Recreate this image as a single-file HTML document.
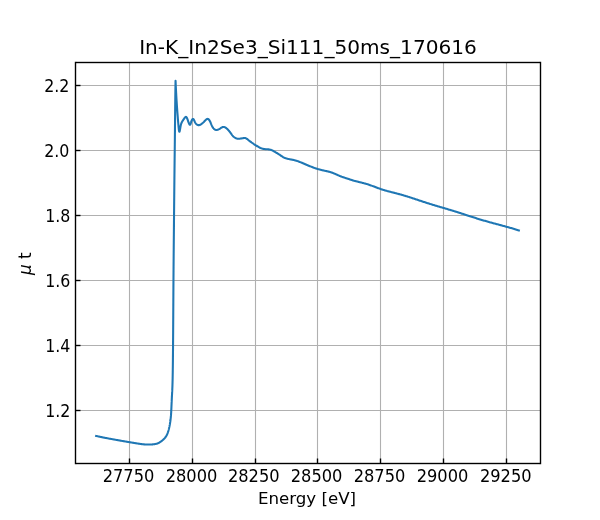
<!DOCTYPE html>
<html><head><meta charset="utf-8"><title>In-K_In2Se3_Si111_50ms_170616</title>
<style>
html,body{margin:0;padding:0;background:#fff;}
body{width:600px;height:520px;overflow:hidden;}
svg{display:block;}
text{font-family:"DejaVu Sans","Liberation Sans",sans-serif;fill:#000;}
</style></head><body>
<svg width="600" height="520" viewBox="0 0 600 520">
<rect x="0" y="0" width="600" height="520" fill="#ffffff"/>
<defs><clipPath id="ax"><rect x="75" y="62.4" width="465" height="400.4"/></clipPath></defs>
<g stroke="#b0b0b0" stroke-width="1.1111" fill="none" clip-path="url(#ax)">
<line x1="129.5" y1="62" x2="129.5" y2="464"/>
<line x1="192.5" y1="62" x2="192.5" y2="464"/>
<line x1="255.5" y1="62" x2="255.5" y2="464"/>
<line x1="317.5" y1="62" x2="317.5" y2="464"/>
<line x1="380.5" y1="62" x2="380.5" y2="464"/>
<line x1="443.5" y1="62" x2="443.5" y2="464"/>
<line x1="506.5" y1="62" x2="506.5" y2="464"/>
<line x1="75" y1="410.5" x2="541" y2="410.5"/>
<line x1="75" y1="345.5" x2="541" y2="345.5"/>
<line x1="75" y1="280.5" x2="541" y2="280.5"/>
<line x1="75" y1="215.5" x2="541" y2="215.5"/>
<line x1="75" y1="150.5" x2="541" y2="150.5"/>
<line x1="75" y1="85.5" x2="541" y2="85.5"/>
</g>
<g stroke="#000" stroke-width="1.3889" fill="none">
<line x1="129.5" y1="463.5" x2="129.5" y2="458.5"/>
<line x1="192.5" y1="463.5" x2="192.5" y2="458.5"/>
<line x1="255.5" y1="463.5" x2="255.5" y2="458.5"/>
<line x1="317.5" y1="463.5" x2="317.5" y2="458.5"/>
<line x1="380.5" y1="463.5" x2="380.5" y2="458.5"/>
<line x1="443.5" y1="463.5" x2="443.5" y2="458.5"/>
<line x1="506.5" y1="463.5" x2="506.5" y2="458.5"/>
<line x1="75.5" y1="410.5" x2="80.5" y2="410.5"/>
<line x1="75.5" y1="345.5" x2="80.5" y2="345.5"/>
<line x1="75.5" y1="280.5" x2="80.5" y2="280.5"/>
<line x1="75.5" y1="215.5" x2="80.5" y2="215.5"/>
<line x1="75.5" y1="150.5" x2="80.5" y2="150.5"/>
<line x1="75.5" y1="85.5" x2="80.5" y2="85.5"/>
</g>
<path d="M96.14 435.90 L96.37 435.96 L96.61 436.02 L96.87 436.08 L97.13 436.15 L97.40 436.21 L97.67 436.28 L97.96 436.35 L98.26 436.41 L98.56 436.48 L98.87 436.55 L99.19 436.62 L99.52 436.70 L99.86 436.77 L100.20 436.84 L100.55 436.92 L100.90 436.99 L101.27 437.07 L101.64 437.14 L102.01 437.22 L102.39 437.30 L102.78 437.38 L103.17 437.45 L103.56 437.53 L103.97 437.61 L104.37 437.69 L104.78 437.77 L105.20 437.86 L105.62 437.94 L106.04 438.02 L106.47 438.10 L106.90 438.18 L107.33 438.27 L107.77 438.35 L108.21 438.43 L108.65 438.51 L109.09 438.60 L109.54 438.68 L109.99 438.76 L110.44 438.85 L110.89 438.93 L111.00 438.95 L111.34 439.01 L111.80 439.10 L112.25 439.18 L112.71 439.26 L113.16 439.34 L113.62 439.43 L114.07 439.51 L114.53 439.59 L114.98 439.67 L115.44 439.75 L115.89 439.83 L116.34 439.91 L116.79 439.99 L117.24 440.07 L117.69 440.15 L118.13 440.23 L118.58 440.31 L119.02 440.39 L119.45 440.46 L119.89 440.54 L120.32 440.61 L120.75 440.69 L121.17 440.76 L121.59 440.84 L122.01 440.91 L122.42 440.98 L122.83 441.05 L123.24 441.12 L123.63 441.19 L124.03 441.26 L124.42 441.32 L124.80 441.39 L125.18 441.45 L125.55 441.51 L125.91 441.58 L126.27 441.64 L126.62 441.70 L126.97 441.76 L127.30 441.81 L127.63 441.87 L127.96 441.92 L128.27 441.98 L128.58 442.03 L128.88 442.08 L129.00 442.10 L129.17 442.13 L129.45 442.18 L129.73 442.22 L130.00 442.27 L130.26 442.31 L130.51 442.35 L130.76 442.40 L131.00 442.44 L131.24 442.48 L131.48 442.51 L131.71 442.55 L131.93 442.59 L132.16 442.63 L132.38 442.67 L132.60 442.70 L132.82 442.74 L133.04 442.77 L133.25 442.81 L133.47 442.85 L133.69 442.88 L133.90 442.92 L134.12 442.95 L134.34 442.99 L134.57 443.03 L134.79 443.07 L135.00 443.10 L135.02 443.10 L135.26 443.14 L135.50 443.18 L135.74 443.22 L135.98 443.26 L136.23 443.30 L136.48 443.34 L136.73 443.39 L136.98 443.43 L137.24 443.47 L137.50 443.51 L137.76 443.55 L138.02 443.59 L138.29 443.63 L138.56 443.68 L138.82 443.72 L139.09 443.76 L139.36 443.80 L139.63 443.84 L139.91 443.88 L140.18 443.91 L140.45 443.95 L140.73 443.99 L141.00 444.03 L141.27 444.06 L141.54 444.10 L141.82 444.13 L142.09 444.16 L142.36 444.20 L142.40 444.20 L142.63 444.23 L142.90 444.26 L143.17 444.28 L143.43 444.31 L143.70 444.34 L143.96 444.36 L144.23 444.38 L144.49 444.41 L144.76 444.43 L145.02 444.45 L145.28 444.46 L145.55 444.48 L145.81 444.50 L146.07 444.51 L146.33 444.52 L146.59 444.53 L146.85 444.54 L147.11 444.55 L147.37 444.56 L147.64 444.56 L147.90 444.57 L148.16 444.57 L148.42 444.57 L148.68 444.57 L148.94 444.57 L149.20 444.56 L149.46 444.56 L149.73 444.55 L149.80 444.55 L149.99 444.54 L150.25 444.53 L150.52 444.52 L150.78 444.51 L151.04 444.49 L151.30 444.48 L151.57 444.46 L151.83 444.44 L152.08 444.42 L152.34 444.40 L152.60 444.37 L152.85 444.35 L153.10 444.32 L153.35 444.30 L153.59 444.27 L153.84 444.24 L154.08 444.20 L154.31 444.17 L154.54 444.14 L154.77 444.10 L155.00 444.06 L155.22 444.03 L155.43 443.99 L155.64 443.95 L155.84 443.91 L156.04 443.86 L156.10 443.85 L156.24 443.82 L156.42 443.77 L156.61 443.73 L156.79 443.68 L156.96 443.63 L157.13 443.58 L157.30 443.52 L157.46 443.47 L157.63 443.41 L157.79 443.35 L157.95 443.28 L158.11 443.21 L158.26 443.14 L158.42 443.07 L158.58 442.99 L158.74 442.91 L158.90 442.83 L159.06 442.74 L159.23 442.64 L159.30 442.60 L159.39 442.54 L159.56 442.44 L159.73 442.34 L159.91 442.22 L160.08 442.11 L160.26 441.99 L160.44 441.87 L160.62 441.74 L160.80 441.61 L160.98 441.48 L161.17 441.35 L161.35 441.21 L161.53 441.07 L161.71 440.93 L161.90 440.79 L162.08 440.64 L162.26 440.49 L162.44 440.34 L162.61 440.19 L162.79 440.04 L162.96 439.89 L163.13 439.74 L163.30 439.58 L163.47 439.43 L163.50 439.40 L163.63 439.27 L163.79 439.12 L163.95 438.96 L164.11 438.81 L164.26 438.65 L164.41 438.49 L164.55 438.33 L164.70 438.17 L164.84 438.00 L164.98 437.84 L165.12 437.67 L165.25 437.50 L165.38 437.33 L165.51 437.15 L165.64 436.97 L165.77 436.79 L165.89 436.60 L166.01 436.41 L166.13 436.22 L166.25 436.02 L166.37 435.82 L166.48 435.61 L166.60 435.40 L166.70 435.20 L166.71 435.18 L166.82 434.96 L166.93 434.73 L167.03 434.50 L167.14 434.27 L167.24 434.03 L167.34 433.78 L167.44 433.53 L167.54 433.28 L167.64 433.02 L167.74 432.76 L167.83 432.49 L167.93 432.22 L168.02 431.95 L168.11 431.67 L168.20 431.39 L168.28 431.11 L168.37 430.83 L168.45 430.54 L168.53 430.25 L168.62 429.96 L168.70 429.66 L168.77 429.37 L168.85 429.07 L168.93 428.77 L169.00 428.47 L169.07 428.17 L169.14 427.86 L169.21 427.56 L169.28 427.25 L169.35 426.94 L169.40 426.70 L169.41 426.63 L169.48 426.32 L169.54 426.01 L169.60 425.70 L169.66 425.39 L169.72 425.08 L169.78 424.77 L169.83 424.46 L169.89 424.15 L169.94 423.83 L169.99 423.52 L170.04 423.21 L170.09 422.89 L170.14 422.58 L170.19 422.27 L170.24 421.95 L170.28 421.64 L170.32 421.32 L170.37 421.01 L170.41 420.69 L170.45 420.38 L170.49 420.06 L170.53 419.75 L170.56 419.43 L170.60 419.12 L170.64 418.80 L170.67 418.49 L170.70 418.17 L170.74 417.86 L170.77 417.54 L170.80 417.23 L170.83 416.91 L170.86 416.60 L170.88 416.28 L170.90 416.10 L170.91 415.97 L170.94 415.66 L170.96 415.34 L170.99 415.03 L171.01 414.72 L171.03 414.41 L171.06 414.09 L171.08 413.78 L171.10 413.47 L171.12 413.16 L171.14 412.85 L171.16 412.54 L171.18 412.22 L171.20 411.91 L171.21 411.60 L171.23 411.29 L171.25 410.98 L171.27 410.66 L171.28 410.35 L171.30 410.04 L171.31 409.73 L171.33 409.41 L171.34 409.10 L171.36 408.79 L171.37 408.47 L171.39 408.16 L171.40 407.84 L171.42 407.53 L171.43 407.21 L171.44 406.90 L171.46 406.58 L171.47 406.27 L171.48 405.95 L171.50 405.63 L171.50 405.60 L171.51 405.31 L171.53 404.99 L171.54 404.67 L171.55 404.35 L171.57 404.03 L171.58 403.71 L171.60 403.39 L171.61 403.07 L171.63 402.75 L171.64 402.43 L171.66 402.11 L171.67 401.79 L171.68 401.47 L171.70 401.15 L171.71 400.83 L171.73 400.51 L171.74 400.20 L171.76 399.88 L171.77 399.56 L171.79 399.24 L171.80 398.93 L171.82 398.61 L171.83 398.30 L171.85 397.99 L171.86 397.68 L171.88 397.36 L171.90 397.05 L171.91 396.75 L171.93 396.44 L171.94 396.13 L171.96 395.83 L171.97 395.53 L171.99 395.23 L172.00 395.00 L172.00 394.93 L172.02 394.63 L172.04 394.33 L172.05 394.04 L172.07 393.74 L172.08 393.45 L172.10 393.15 L172.11 392.85 L172.13 392.56 L172.14 392.26 L172.16 391.95 L172.18 391.65 L172.19 391.34 L172.21 391.03 L172.22 390.72 L172.24 390.40 L172.25 390.08 L172.27 389.75 L172.29 389.41 L172.30 389.08 L172.32 388.73 L172.33 388.38 L172.35 388.02 L172.36 387.65 L172.38 387.28 L172.39 386.89 L172.41 386.50 L172.42 386.10 L172.44 385.69 L172.45 385.27 L172.46 384.84 L172.48 384.40 L172.49 383.95 L172.51 383.49 L172.52 383.01 L172.54 382.52 L172.55 382.02 L172.56 381.51 L172.58 380.98 L172.59 380.44 L172.60 380.00 L172.60 379.88 L172.62 379.31 L172.63 378.72 L172.64 378.12 L172.65 377.51 L172.67 376.88 L172.68 376.24 L172.69 375.59 L172.70 374.92 L172.71 374.24 L172.73 373.54 L172.74 372.84 L172.75 372.12 L172.76 371.39 L172.77 370.65 L172.78 369.90 L172.79 369.13 L172.80 368.36 L172.82 367.57 L172.83 366.77 L172.84 365.96 L172.85 365.15 L172.86 364.32 L172.87 363.48 L172.88 362.64 L172.89 361.78 L172.90 360.91 L172.91 360.04 L172.92 359.16 L172.92 358.27 L172.93 357.37 L172.94 356.46 L172.95 355.55 L172.96 354.63 L172.97 353.70 L172.98 352.76 L172.99 351.82 L173.00 350.87 L173.00 349.92 L173.01 348.95 L173.02 347.99 L173.03 347.01 L173.04 346.04 L173.05 345.05 L173.05 344.07 L173.06 343.07 L173.07 342.08 L173.08 341.07 L173.08 340.07 L173.09 339.06 L173.10 338.05 L173.11 337.03 L173.11 336.01 L173.12 334.99 L173.13 333.97 L173.14 332.94 L173.14 331.91 L173.15 330.88 L173.16 329.85 L173.16 328.82 L173.17 327.78 L173.18 326.75 L173.18 325.71 L173.19 324.67 L173.20 323.64 L173.20 322.60 L173.21 321.56 L173.22 320.52 L173.22 319.49 L173.23 318.45 L173.24 317.42 L173.24 316.39 L173.25 315.35 L173.25 314.32 L173.26 313.30 L173.27 312.27 L173.27 311.25 L173.28 310.23 L173.28 309.21 L173.29 308.20 L173.30 307.19 L173.30 306.18 L173.31 305.17 L173.31 304.18 L173.32 303.18 L173.33 302.19 L173.33 301.20 L173.34 300.22 L173.34 299.25 L173.35 298.28 L173.36 297.31 L173.36 296.35 L173.37 295.40 L173.37 294.46 L173.38 293.52 L173.38 292.58 L173.39 291.66 L173.40 290.74 L173.40 290.00 L173.40 289.83 L173.41 288.92 L173.41 288.03 L173.42 287.14 L173.42 286.26 L173.43 285.39 L173.44 284.52 L173.44 283.66 L173.45 282.80 L173.45 281.96 L173.46 281.12 L173.46 280.28 L173.47 279.45 L173.48 278.63 L173.48 277.82 L173.49 277.00 L173.49 276.20 L173.50 275.40 L173.51 274.61 L173.51 273.82 L173.52 273.03 L173.52 272.25 L173.53 271.48 L173.53 270.71 L173.54 269.94 L173.55 269.18 L173.55 268.42 L173.56 267.67 L173.56 266.92 L173.57 266.18 L173.58 265.43 L173.58 264.70 L173.59 263.96 L173.59 263.23 L173.60 262.50 L173.61 261.78 L173.61 261.05 L173.62 260.33 L173.63 259.61 L173.63 258.90 L173.64 258.19 L173.64 257.47 L173.65 256.77 L173.66 256.06 L173.66 255.35 L173.67 254.65 L173.67 253.95 L173.68 253.24 L173.69 252.54 L173.69 251.84 L173.70 251.15 L173.71 250.45 L173.71 249.75 L173.72 249.05 L173.73 248.36 L173.73 247.66 L173.74 246.96 L173.74 246.27 L173.75 245.57 L173.76 244.87 L173.76 244.18 L173.77 243.48 L173.78 242.78 L173.78 242.08 L173.79 241.38 L173.80 240.67 L173.80 239.97 L173.81 239.26 L173.82 238.56 L173.82 237.85 L173.83 237.13 L173.84 236.42 L173.85 235.71 L173.85 234.99 L173.86 234.27 L173.87 233.55 L173.87 232.82 L173.88 232.09 L173.89 231.36 L173.89 230.62 L173.90 230.00 L173.90 229.89 L173.91 229.14 L173.92 228.40 L173.92 227.65 L173.93 226.90 L173.94 226.15 L173.94 225.39 L173.95 224.63 L173.96 223.87 L173.97 223.10 L173.97 222.33 L173.98 221.56 L173.99 220.79 L174.00 220.02 L174.00 219.24 L174.01 218.47 L174.02 217.69 L174.03 216.91 L174.03 216.12 L174.04 215.34 L174.05 214.56 L174.06 213.77 L174.06 212.99 L174.07 212.20 L174.08 211.41 L174.09 210.62 L174.09 209.83 L174.10 209.04 L174.11 208.26 L174.12 207.47 L174.12 206.68 L174.13 205.89 L174.14 205.10 L174.15 204.31 L174.16 203.52 L174.16 202.74 L174.17 201.95 L174.18 201.16 L174.19 200.38 L174.19 199.60 L174.20 198.81 L174.21 198.03 L174.22 197.25 L174.23 196.47 L174.23 195.70 L174.24 194.92 L174.25 194.15 L174.26 193.38 L174.26 192.61 L174.27 191.85 L174.28 191.09 L174.29 190.32 L174.29 189.57 L174.30 188.81 L174.31 188.06 L174.32 187.31 L174.32 186.56 L174.33 185.82 L174.34 185.08 L174.35 184.35 L174.35 183.61 L174.36 182.89 L174.37 182.16 L174.38 181.44 L174.38 180.73 L174.39 180.01 L174.40 179.31 L174.41 178.60 L174.41 177.90 L174.42 177.21 L174.43 176.52 L174.44 175.84 L174.44 175.16 L174.45 174.48 L174.46 173.82 L174.47 173.15 L174.47 172.50 L174.48 171.84 L174.49 171.20 L174.49 170.56 L174.50 170.00 L174.50 169.92 L174.51 169.30 L174.51 168.68 L174.52 168.06 L174.53 167.45 L174.54 166.85 L174.54 166.25 L174.55 165.65 L174.56 165.06 L174.56 164.48 L174.57 163.90 L174.58 163.33 L174.58 162.76 L174.59 162.19 L174.60 161.63 L174.60 161.08 L174.61 160.53 L174.62 159.98 L174.62 159.43 L174.63 158.89 L174.63 158.36 L174.64 157.82 L174.65 157.29 L174.65 156.77 L174.66 156.24 L174.67 155.72 L174.67 155.20 L174.68 154.69 L174.69 154.17 L174.69 153.66 L174.70 153.15 L174.70 152.65 L174.71 152.14 L174.72 151.64 L174.72 151.14 L174.73 150.64 L174.73 150.14 L174.74 149.64 L174.75 149.14 L174.75 148.65 L174.76 148.15 L174.76 147.66 L174.77 147.17 L174.77 146.67 L174.78 146.18 L174.79 145.69 L174.79 145.19 L174.80 144.70 L174.80 144.21 L174.81 143.72 L174.81 143.22 L174.82 142.73 L174.83 142.23 L174.83 141.73 L174.84 141.24 L174.84 140.74 L174.85 140.24 L174.85 140.00 L174.85 139.74 L174.86 139.23 L174.86 138.73 L174.87 138.22 L174.87 137.71 L174.88 137.21 L174.88 136.70 L174.89 136.18 L174.90 135.67 L174.90 135.16 L174.91 134.64 L174.91 134.12 L174.92 133.60 L174.92 133.08 L174.93 132.56 L174.93 132.04 L174.94 131.52 L174.94 131.00 L174.95 130.47 L174.95 129.94 L174.96 129.42 L174.96 128.89 L174.97 128.36 L174.97 127.83 L174.98 127.30 L174.98 126.77 L174.99 126.24 L174.99 125.70 L175.00 125.17 L175.00 124.63 L175.01 124.10 L175.01 123.56 L175.02 123.03 L175.03 122.49 L175.03 121.95 L175.04 121.41 L175.04 120.87 L175.05 120.34 L175.05 119.80 L175.06 119.26 L175.06 118.72 L175.07 118.17 L175.07 117.63 L175.08 117.09 L175.08 116.55 L175.09 116.01 L175.09 115.47 L175.10 114.92 L175.10 114.38 L175.11 113.84 L175.12 113.29 L175.12 112.75 L175.13 112.21 L175.13 111.67 L175.14 111.12 L175.14 110.58 L175.15 110.04 L175.15 110.00 L175.16 109.49 L175.16 108.95 L175.17 108.41 L175.17 107.87 L175.18 107.33 L175.18 106.78 L175.19 106.24 L175.20 105.70 L175.20 105.16 L175.21 104.62 L175.21 104.08 L175.22 103.54 L175.23 103.00 L175.23 102.46 L175.24 101.93 L175.25 101.39 L175.25 100.85 L175.26 100.32 L175.27 99.78 L175.27 99.25 L175.28 98.71 L175.28 98.18 L175.29 97.65 L175.30 97.11 L175.31 96.58 L175.31 96.05 L175.32 95.52 L175.33 95.00 L175.33 94.47 L175.34 93.94 L175.35 93.42 L175.35 92.89 L175.36 92.37 L175.37 91.85 L175.38 91.33 L175.38 90.81 L175.39 90.29 L175.40 89.77 L175.41 89.25 L175.41 88.74 L175.42 88.23 L175.43 87.71 L175.44 87.20 L175.45 86.69 L175.45 86.19 L175.46 85.68 L175.47 85.17 L175.48 84.67 L175.49 84.17 L175.50 83.67 L175.51 83.17 L175.51 82.67 L175.52 82.18 L175.53 81.68 L175.54 81.19 L175.55 80.70 L175.59 81.62 L175.63 82.55 L175.67 83.47 L175.71 84.38 L175.75 85.30 L175.79 86.21 L175.84 87.13 L175.88 88.03 L175.93 88.94 L175.97 89.84 L176.02 90.75 L176.07 91.64 L176.11 92.54 L176.16 93.43 L176.21 94.32 L176.26 95.21 L176.31 96.09 L176.36 96.97 L176.41 97.84 L176.47 98.71 L176.52 99.58 L176.57 100.44 L176.63 101.30 L176.68 102.16 L176.73 103.01 L176.79 103.86 L176.84 104.70 L176.90 105.53 L176.96 106.37 L177.00 107.00 L177.01 107.19 L177.07 108.01 L177.13 108.83 L177.19 109.64 L177.24 110.45 L177.30 111.25 L177.36 112.05 L177.42 112.84 L177.48 113.62 L177.54 114.40 L177.60 115.17 L177.66 115.93 L177.71 116.69 L177.77 117.45 L177.83 118.19 L177.89 118.93 L177.95 119.67 L178.01 120.39 L178.07 121.11 L178.13 121.82 L178.19 122.53 L178.26 123.23 L178.32 123.92 L178.38 124.60 L178.43 125.27 L178.49 125.94 L178.50 126.00 L178.55 126.60 L178.61 127.25 L178.67 127.87 L178.73 128.47 L178.80 129.04 L178.86 129.58 L178.92 130.07 L178.98 130.51 L179.05 130.90 L179.11 131.22 L179.18 131.48 L179.25 131.67 L179.32 131.78 L179.39 131.80 L179.40 131.80 L179.46 131.74 L179.54 131.59 L179.62 131.37 L179.70 131.08 L179.78 130.74 L179.86 130.35 L179.94 129.93 L180.02 129.47 L180.10 128.99 L180.18 128.51 L180.26 128.02 L180.34 127.54 L180.40 127.20 L180.42 127.07 L180.50 126.63 L180.58 126.21 L180.66 125.80 L180.74 125.42 L180.82 125.04 L180.91 124.68 L181.01 124.33 L181.11 123.99 L181.23 123.66 L181.35 123.33 L181.48 123.00 L181.62 122.67 L181.70 122.50 L181.77 122.35 L181.94 122.02 L182.12 121.68 L182.31 121.35 L182.51 121.02 L182.71 120.69 L182.92 120.36 L183.14 120.04 L183.36 119.72 L183.58 119.40 L183.80 119.09 L184.02 118.79 L184.23 118.49 L184.30 118.40 L184.45 118.20 L184.66 117.93 L184.86 117.67 L185.06 117.44 L185.26 117.24 L185.45 117.08 L185.63 116.97 L185.82 116.90 L185.99 116.90 L186.00 116.90 L186.16 116.96 L186.33 117.08 L186.50 117.25 L186.66 117.48 L186.82 117.76 L186.98 118.07 L187.14 118.43 L187.29 118.82 L187.45 119.24 L187.61 119.68 L187.78 120.15 L187.90 120.50 L187.94 120.62 L188.11 121.11 L188.28 121.60 L188.46 122.09 L188.63 122.55 L188.80 123.00 L188.98 123.42 L189.15 123.79 L189.32 124.12 L189.48 124.40 L189.64 124.61 L189.79 124.74 L189.94 124.80 L190.00 124.80 L190.08 124.77 L190.21 124.66 L190.34 124.47 L190.46 124.21 L190.58 123.90 L190.70 123.54 L190.82 123.14 L190.95 122.72 L191.07 122.28 L191.20 121.84 L191.34 121.40 L191.48 120.98 L191.55 120.80 L191.64 120.58 L191.80 120.21 L191.97 119.88 L192.15 119.59 L192.33 119.35 L192.51 119.15 L192.69 119.02 L192.88 118.94 L193.06 118.93 L193.15 118.95 L193.24 118.99 L193.41 119.11 L193.58 119.30 L193.74 119.54 L193.90 119.82 L194.06 120.13 L194.22 120.46 L194.38 120.82 L194.53 121.17 L194.69 121.53 L194.84 121.87 L194.90 122.00 L194.99 122.19 L195.15 122.49 L195.31 122.77 L195.47 123.03 L195.64 123.27 L195.81 123.50 L195.98 123.71 L196.17 123.90 L196.36 124.09 L196.56 124.27 L196.60 124.30 L196.77 124.43 L196.99 124.59 L197.22 124.73 L197.46 124.86 L197.71 124.97 L197.97 125.06 L198.23 125.12 L198.51 125.15 L198.79 125.15 L198.85 125.15 L199.09 125.12 L199.39 125.06 L199.69 124.96 L200.00 124.84 L200.31 124.70 L200.62 124.54 L200.93 124.36 L201.24 124.16 L201.53 123.96 L201.82 123.74 L202.10 123.52 L202.25 123.40 L202.37 123.30 L202.63 123.07 L202.88 122.85 L203.11 122.62 L203.35 122.39 L203.57 122.16 L203.80 121.92 L204.03 121.68 L204.25 121.44 L204.48 121.20 L204.72 120.94 L204.90 120.75 L204.96 120.69 L205.21 120.43 L205.46 120.17 L205.73 119.92 L205.99 119.69 L206.26 119.47 L206.53 119.28 L206.80 119.13 L207.07 119.00 L207.34 118.93 L207.60 118.90 L207.70 118.90 L207.86 118.92 L208.11 119.00 L208.35 119.13 L208.59 119.31 L208.82 119.52 L209.04 119.77 L209.26 120.05 L209.47 120.36 L209.67 120.69 L209.86 121.03 L210.05 121.39 L210.10 121.50 L210.22 121.76 L210.39 122.13 L210.55 122.50 L210.71 122.88 L210.86 123.27 L211.01 123.65 L211.17 124.03 L211.32 124.42 L211.48 124.80 L211.64 125.19 L211.81 125.57 L211.98 125.94 L212.17 126.32 L212.36 126.68 L212.40 126.75 L212.57 127.04 L212.79 127.40 L213.02 127.74 L213.27 128.06 L213.52 128.37 L213.79 128.67 L214.07 128.93 L214.35 129.18 L214.65 129.39 L214.95 129.58 L215.26 129.73 L215.58 129.84 L215.80 129.90 L215.91 129.92 L216.24 129.96 L216.58 129.96 L216.93 129.92 L217.27 129.86 L217.62 129.77 L217.97 129.65 L218.33 129.51 L218.68 129.35 L219.03 129.17 L219.37 128.98 L219.72 128.77 L220.00 128.60 L220.06 128.56 L220.39 128.35 L220.72 128.13 L221.04 127.92 L221.37 127.72 L221.69 127.53 L222.02 127.36 L222.34 127.22 L222.67 127.10 L223.01 127.02 L223.34 126.97 L223.69 126.97 L224.00 127.00 L224.05 127.01 L224.41 127.10 L224.78 127.24 L225.16 127.42 L225.54 127.64 L225.92 127.90 L226.31 128.19 L226.69 128.50 L227.07 128.84 L227.45 129.20 L227.82 129.58 L228.19 129.97 L228.54 130.36 L228.89 130.76 L229.22 131.17 L229.54 131.57 L229.80 131.90 L229.84 131.96 L230.13 132.34 L230.40 132.71 L230.67 133.08 L230.92 133.43 L231.16 133.77 L231.40 134.11 L231.63 134.43 L231.87 134.75 L232.10 135.06 L232.34 135.36 L232.59 135.65 L232.84 135.94 L233.11 136.21 L233.30 136.40 L233.38 136.48 L233.67 136.74 L233.98 136.99 L234.29 137.23 L234.61 137.46 L234.94 137.67 L235.28 137.87 L235.61 138.06 L235.95 138.22 L236.30 138.37 L236.64 138.50 L236.97 138.60 L237.31 138.68 L237.40 138.70 L237.64 138.74 L237.96 138.77 L238.28 138.79 L238.59 138.79 L238.89 138.77 L239.19 138.74 L239.49 138.70 L239.78 138.66 L240.07 138.62 L240.36 138.57 L240.50 138.55 L240.64 138.53 L240.92 138.49 L241.20 138.45 L241.47 138.42 L241.75 138.38 L242.02 138.35 L242.28 138.31 L242.55 138.27 L242.81 138.23 L243.00 138.20 L243.08 138.19 L243.34 138.14 L243.60 138.09 L243.86 138.04 L244.12 138.01 L244.38 137.99 L244.65 137.98 L244.93 138.00 L245.20 138.05 L245.40 138.10 L245.49 138.13 L245.78 138.24 L246.07 138.38 L246.38 138.55 L246.69 138.74 L247.00 138.95 L247.32 139.19 L247.65 139.44 L247.98 139.70 L248.32 139.97 L248.66 140.25 L249.00 140.54 L249.35 140.82 L249.70 141.10 L249.71 141.11 L250.07 141.39 L250.43 141.66 L250.79 141.93 L251.16 142.20 L251.53 142.47 L251.90 142.73 L252.28 142.99 L252.66 143.24 L253.04 143.50 L253.42 143.75 L253.80 144.01 L254.19 144.26 L254.58 144.51 L254.96 144.76 L255.35 145.01 L255.50 145.10 L255.75 145.26 L256.14 145.51 L256.53 145.75 L256.92 146.00 L257.31 146.24 L257.71 146.48 L258.10 146.71 L258.49 146.94 L258.88 147.16 L259.27 147.37 L259.65 147.57 L260.04 147.76 L260.42 147.94 L260.81 148.10 L261.19 148.26 L261.30 148.30 L261.56 148.39 L261.94 148.52 L262.31 148.63 L262.68 148.73 L263.05 148.81 L263.42 148.89 L263.79 148.95 L264.16 149.01 L264.53 149.06 L264.89 149.10 L265.26 149.14 L265.63 149.17 L266.00 149.20 L266.00 149.20 L266.38 149.23 L266.75 149.25 L267.13 149.27 L267.50 149.30 L267.88 149.33 L268.25 149.36 L268.63 149.40 L269.00 149.45 L269.37 149.50 L269.74 149.57 L270.11 149.65 L270.48 149.74 L270.70 149.80 L270.84 149.84 L271.20 149.96 L271.55 150.10 L271.91 150.24 L272.26 150.40 L272.61 150.57 L272.96 150.75 L273.30 150.93 L273.65 151.13 L273.99 151.32 L274.34 151.53 L274.69 151.73 L275.03 151.94 L275.30 152.10 L275.38 152.15 L275.73 152.36 L276.08 152.57 L276.43 152.78 L276.78 152.99 L277.13 153.20 L277.48 153.41 L277.83 153.62 L278.18 153.83 L278.52 154.04 L278.87 154.26 L279.20 154.48 L279.54 154.69 L279.87 154.91 L280.00 155.00 L280.20 155.13 L280.52 155.36 L280.84 155.58 L281.16 155.80 L281.48 156.02 L281.79 156.24 L282.11 156.45 L282.44 156.66 L282.76 156.87 L283.10 157.07 L283.43 157.26 L283.78 157.45 L284.13 157.62 L284.30 157.70 L284.50 157.79 L284.87 157.94 L285.25 158.09 L285.64 158.23 L286.04 158.36 L286.44 158.48 L286.85 158.60 L287.26 158.71 L287.67 158.81 L288.09 158.91 L288.51 159.00 L288.93 159.09 L289.34 159.17 L289.76 159.25 L290.00 159.30 L290.18 159.33 L290.59 159.41 L291.00 159.48 L291.41 159.56 L291.82 159.63 L292.23 159.71 L292.65 159.79 L293.06 159.88 L293.48 159.97 L293.91 160.06 L294.34 160.16 L294.78 160.27 L295.23 160.39 L295.69 160.52 L296.15 160.65 L296.30 160.70 L296.63 160.80 L297.12 160.97 L297.61 161.14 L298.12 161.32 L298.63 161.51 L299.16 161.71 L299.69 161.92 L300.22 162.13 L300.77 162.35 L301.32 162.58 L301.87 162.81 L302.43 163.05 L302.99 163.29 L303.56 163.53 L304.13 163.77 L304.70 164.02 L305.27 164.26 L305.85 164.51 L306.42 164.76 L307.00 165.00 L307.00 165.00 L307.57 165.24 L308.14 165.48 L308.71 165.71 L309.28 165.95 L309.85 166.18 L310.41 166.40 L310.97 166.62 L311.53 166.84 L312.09 167.05 L312.64 167.26 L313.19 167.47 L313.73 167.67 L314.27 167.86 L314.81 168.05 L315.33 168.24 L315.86 168.41 L316.38 168.58 L316.89 168.75 L317.40 168.91 L317.70 169.00 L317.89 169.06 L318.39 169.20 L318.87 169.34 L319.35 169.47 L319.83 169.60 L320.30 169.72 L320.76 169.84 L321.22 169.95 L321.68 170.06 L322.13 170.17 L322.58 170.27 L323.02 170.37 L323.46 170.47 L323.90 170.56 L324.34 170.66 L324.78 170.75 L325.00 170.80 L325.21 170.85 L325.64 170.94 L326.08 171.03 L326.51 171.13 L326.93 171.23 L327.36 171.32 L327.78 171.42 L328.20 171.52 L328.62 171.63 L329.03 171.73 L329.44 171.84 L329.84 171.95 L330.24 172.07 L330.63 172.18 L331.00 172.30 L331.02 172.31 L331.41 172.44 L331.79 172.57 L332.17 172.70 L332.54 172.84 L332.91 172.98 L333.28 173.13 L333.65 173.28 L334.01 173.43 L334.38 173.59 L334.74 173.75 L335.11 173.91 L335.48 174.07 L335.85 174.23 L336.00 174.30 L336.23 174.40 L336.60 174.57 L336.99 174.74 L337.37 174.91 L337.76 175.08 L338.15 175.25 L338.54 175.42 L338.93 175.59 L339.33 175.76 L339.73 175.92 L340.14 176.09 L340.54 176.25 L340.95 176.41 L341.36 176.57 L341.70 176.70 L341.77 176.73 L342.19 176.88 L342.61 177.03 L343.03 177.18 L343.45 177.32 L343.87 177.46 L344.29 177.60 L344.71 177.74 L345.14 177.88 L345.56 178.02 L345.98 178.15 L346.41 178.29 L346.83 178.42 L347.26 178.56 L347.68 178.69 L348.00 178.80 L348.10 178.83 L348.52 178.97 L348.94 179.11 L349.36 179.25 L349.78 179.39 L350.21 179.53 L350.63 179.67 L351.07 179.81 L351.50 179.96 L351.94 180.10 L352.39 180.24 L352.85 180.38 L353.31 180.52 L353.79 180.66 L354.27 180.80 L354.76 180.93 L355.00 181.00 L355.27 181.07 L355.78 181.21 L356.31 181.34 L356.85 181.48 L357.39 181.61 L357.95 181.75 L358.52 181.88 L359.09 182.02 L359.67 182.16 L360.26 182.30 L360.86 182.44 L361.46 182.59 L362.06 182.74 L362.68 182.90 L363.29 183.06 L363.92 183.22 L364.54 183.39 L365.17 183.56 L365.80 183.74 L366.43 183.93 L367.00 184.10 L367.07 184.12 L367.70 184.32 L368.34 184.53 L368.97 184.74 L369.61 184.96 L370.24 185.18 L370.88 185.40 L371.51 185.63 L372.14 185.86 L372.77 186.10 L373.40 186.33 L374.03 186.56 L374.65 186.80 L375.27 187.03 L375.88 187.27 L376.49 187.50 L377.10 187.73 L377.70 187.95 L378.30 188.17 L378.89 188.39 L379.48 188.60 L380.06 188.81 L380.60 189.00 L380.63 189.01 L381.20 189.20 L381.76 189.39 L382.31 189.57 L382.86 189.75 L383.41 189.92 L383.95 190.08 L384.49 190.24 L385.03 190.40 L385.57 190.55 L386.10 190.71 L386.64 190.85 L387.17 191.00 L387.71 191.14 L388.25 191.29 L388.79 191.43 L389.33 191.57 L389.88 191.71 L390.43 191.85 L390.98 192.00 L391.00 192.00 L391.55 192.14 L392.11 192.29 L392.68 192.43 L393.26 192.58 L393.84 192.73 L394.42 192.88 L395.01 193.03 L395.60 193.18 L396.19 193.34 L396.78 193.49 L397.37 193.65 L397.97 193.81 L398.57 193.97 L399.16 194.13 L399.76 194.29 L400.36 194.45 L400.95 194.62 L401.54 194.78 L402.14 194.95 L402.73 195.12 L403.00 195.20 L403.31 195.29 L403.90 195.46 L404.48 195.63 L405.06 195.81 L405.64 195.98 L406.22 196.16 L406.79 196.34 L407.37 196.52 L407.95 196.70 L408.52 196.88 L409.10 197.06 L409.68 197.25 L410.26 197.44 L410.84 197.63 L411.42 197.82 L412.00 198.01 L412.59 198.20 L413.18 198.40 L413.77 198.59 L414.37 198.79 L414.97 198.99 L415.00 199.00 L415.58 199.19 L416.19 199.40 L416.80 199.60 L417.42 199.81 L418.04 200.01 L418.66 200.22 L419.29 200.43 L419.91 200.64 L420.54 200.85 L421.18 201.06 L421.81 201.27 L422.44 201.48 L423.08 201.69 L423.72 201.90 L424.35 202.11 L424.99 202.31 L425.63 202.52 L426.27 202.73 L426.90 202.93 L427.54 203.14 L428.17 203.34 L428.80 203.54 L429.00 203.60 L429.44 203.74 L430.07 203.93 L430.69 204.13 L431.32 204.32 L431.95 204.51 L432.57 204.70 L433.20 204.89 L433.82 205.08 L434.45 205.27 L435.07 205.46 L435.70 205.64 L436.32 205.83 L436.95 206.02 L437.58 206.20 L438.21 206.39 L438.84 206.58 L439.48 206.76 L440.11 206.95 L440.75 207.14 L441.39 207.33 L442.04 207.52 L442.69 207.71 L443.00 207.80 L443.34 207.90 L443.99 208.09 L444.65 208.29 L445.30 208.48 L445.95 208.68 L446.60 208.87 L447.25 209.06 L447.89 209.25 L448.52 209.44 L449.15 209.63 L449.76 209.81 L450.36 209.99 L450.95 210.17 L451.52 210.34 L452.08 210.51 L452.62 210.67 L453.14 210.83 L453.64 210.98 L454.11 211.13 L454.57 211.27 L454.99 211.40 L455.00 211.40 L455.40 211.52 L455.78 211.64 L456.14 211.75 L456.49 211.86 L456.84 211.97 L457.18 212.08 L457.52 212.19 L457.87 212.30 L458.22 212.42 L458.60 212.54 L458.99 212.67 L459.41 212.81 L459.86 212.95 L460.00 213.00 L460.34 213.11 L460.86 213.28 L461.41 213.46 L461.99 213.65 L462.60 213.85 L463.23 214.06 L463.90 214.28 L464.58 214.51 L465.30 214.74 L466.03 214.98 L466.78 215.22 L467.55 215.47 L468.33 215.73 L469.13 215.99 L469.95 216.25 L470.77 216.51 L471.60 216.78 L472.45 217.05 L473.29 217.32 L474.15 217.59 L475.00 217.86 L475.86 218.12 L476.71 218.39 L477.57 218.66 L478.42 218.92 L479.26 219.18 L480.00 219.40 L480.10 219.43 L480.93 219.68 L481.75 219.93 L482.57 220.17 L483.37 220.40 L484.17 220.64 L484.96 220.87 L485.75 221.09 L486.53 221.31 L487.30 221.53 L488.07 221.75 L488.83 221.96 L489.58 222.17 L490.33 222.38 L491.08 222.59 L491.82 222.79 L492.56 222.99 L493.29 223.19 L494.02 223.39 L494.75 223.59 L495.48 223.78 L496.20 223.98 L496.92 224.17 L497.64 224.37 L498.35 224.56 L499.07 224.75 L499.78 224.94 L500.00 225.00 L500.49 225.13 L501.20 225.32 L501.91 225.52 L502.62 225.71 L503.34 225.90 L504.05 226.09 L504.76 226.29 L505.48 226.48 L506.19 226.68 L506.91 226.88 L507.63 227.08 L508.35 227.28 L509.07 227.49 L509.80 227.69 L510.53 227.90 L511.27 228.11 L512.00 228.33 L512.74 228.54 L513.49 228.76 L514.24 228.98 L515.00 229.21 L515.76 229.44 L516.52 229.67 L517.30 229.91 L518.08 230.15 L518.86 230.40" fill="none" stroke="#1f77b4" stroke-width="2.0833" stroke-linejoin="round" stroke-linecap="square" clip-path="url(#ax)"/>
<g stroke="#000" stroke-width="1.3889" fill="none" stroke-linecap="square">
<line x1="75.5" y1="62.5" x2="75.5" y2="463.5"/>
<line x1="540.5" y1="62.5" x2="540.5" y2="463.5"/>
</g>
<g fill="#000" shape-rendering="crispEdges">
<rect x="75" y="62" width="466" height="1"/>
<rect x="76" y="61" width="464" height="1" fill-opacity="0.196"/>
<rect x="76" y="63" width="464" height="1" fill-opacity="0.196"/>
<rect x="75" y="463" width="466" height="1"/>
<rect x="76" y="462" width="464" height="1" fill-opacity="0.196"/>
<rect x="76" y="464" width="464" height="1" fill-opacity="0.196"/>
</g>
<g font-size="16.6667">
<text transform="translate(128.471 481.575) scale(0.9750 1.0300)" text-anchor="middle">27750</text>
<text transform="translate(191.502 481.575) scale(0.9750 1.0300)" text-anchor="middle">28000</text>
<text transform="translate(253.783 481.575) scale(0.9750 1.0300)" text-anchor="middle">28250</text>
<text transform="translate(316.564 481.575) scale(0.9750 1.0300)" text-anchor="middle">28500</text>
<text transform="translate(379.469 481.575) scale(0.9750 1.0300)" text-anchor="middle">28750</text>
<text transform="translate(442.500 481.575) scale(0.9750 1.0300)" text-anchor="middle">29000</text>
<text transform="translate(505.781 481.575) scale(0.9750 1.0300)" text-anchor="middle">29250</text>
<text transform="translate(70.389 416.582) scale(0.9500 1.0400)" text-anchor="end">1.2</text>
<text transform="translate(70.389 351.582) scale(0.9500 1.0400)" text-anchor="end">1.4</text>
<text transform="translate(70.389 286.582) scale(0.9500 1.0400)" text-anchor="end">1.6</text>
<text transform="translate(70.389 221.582) scale(0.9500 1.0400)" text-anchor="end">1.8</text>
<text transform="translate(69.389 156.582) scale(0.9500 1.0400)" text-anchor="end">2.0</text>
<text transform="translate(69.389 91.582) scale(0.9500 1.0400)" text-anchor="end">2.2</text>
<text transform="translate(307.000 503.511) scale(1.0000 1.0000)" text-anchor="middle">Energy [eV]</text>
<g transform="translate(31.578 275.100) rotate(-90) scale(1.0100 1.0600)"><text><tspan x="0" y="-0.80" font-style="oblique">μ</tspan><tspan> </tspan><tspan x="15.90" y="-0.80">t</tspan></text></g>
</g>
<text transform="translate(308.000 53.567) scale(1.0050 0.9800)" text-anchor="middle" font-size="20">In-K_In2Se3_Si111_50ms_170616</text>
</svg></body></html>
